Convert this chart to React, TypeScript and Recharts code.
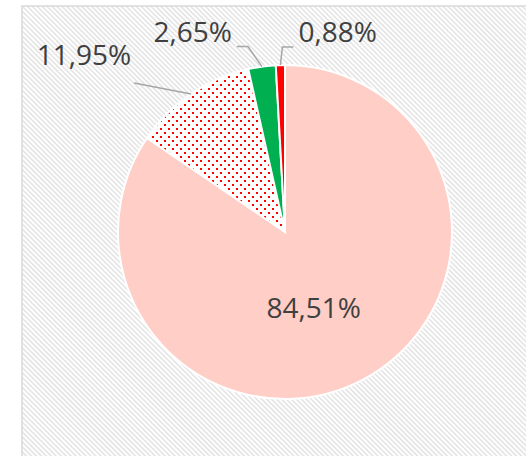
import React from "react";
import { PieChart, Pie, Cell } from "recharts";

const categories = ["A", "B", "C", "D"];
const shares = [84.51, 11.95, 2.65, 0.88];
const colors = ["#FFCEC6", "url(#dotsRed)", "#00B050", "#FF0000"];

const data = categories.map((name, i) => ({ name, value: shares[i] }));

const W = 526;
const H = 456;
const RADIAN = Math.PI / 180;

// label layout: inside factor, or leader offsets
const layout: any[] = [
  { inside: 0.47, ox: -8, oy: 6 },
  { elbow: [-57, -11], run: 0, side: "end", tdx: -3, tdy: -18 },
  { elbow: [-14, -20], run: -11, side: "end", tdx: -5, tdy: -5 },
  { elbow: [2, -18], run: 11, side: "start", tdx: 5, tdy: -5 },
];

const fmt = (v: number) => v.toFixed(2).replace(".", ",") + "%";

const renderLabel = (props: any) => {
  const { cx, cy, midAngle, outerRadius, index, value } = props;
  const L = layout[index];
  const cos = Math.cos(-midAngle * RADIAN);
  const sin = Math.sin(-midAngle * RADIAN);
  const textStyle = {
    fontFamily: "'Open Sans', sans-serif",
    fontSize: 28,
    fill: "#404040",
  };
  if (L.inside) {
    const x = cx + outerRadius * L.inside * cos + L.ox;
    const y = cy + outerRadius * L.inside * sin + L.oy;
    return (
      <text key={index} x={x} y={y} textAnchor="middle" dominantBaseline="central" style={textStyle}>
        {fmt(value)}
      </text>
    );
  }
  const ex = cx + outerRadius * cos;
  const ey = cy + outerRadius * sin;
  const bx = ex + L.elbow[0];
  const by = ey + L.elbow[1];
  const qx = bx + L.run;
  const qy = by;
  return (
    <g key={index}>
      <polyline
        points={`${ex},${ey} ${bx},${by} ${qx},${qy}`}
        fill="none"
        stroke="#A6A6A6"
        strokeWidth={1.5}
      />
      <text x={qx + L.tdx} y={qy + L.tdy} textAnchor={L.side} style={textStyle}>
        {fmt(value)}
      </text>
    </g>
  );
};

export default function App() {
  return (
    <div style={{ position: "absolute", left: 0, top: 0, width: W, height: H, overflow: "hidden", background: "#fff" }}>
      <svg width={W} height={H} style={{ position: "absolute", left: 0, top: 0 }}>
        <defs>
          <pattern id="hatchBg" patternUnits="userSpaceOnUse" width={3.5} height={10} patternTransform="rotate(-45)">
            <rect x={0} y={0} width={3.5} height={10} fill="#ffffff" />
            <rect x={0} y={0} width={1.5} height={10} fill="#E2E2E2" />
          </pattern>
          <pattern id="dotsRed" patternUnits="userSpaceOnUse" width={8} height={8}>
            <rect x={0} y={0} width={8} height={8} fill="#ffffff" />
            <rect x={0} y={0} width={2} height={2} fill="#FF0000" />
            <rect x={4} y={4} width={2} height={2} fill="#FF0000" />
          </pattern>
        </defs>
        <rect x={22} y={6} width={W} height={H} fill="url(#hatchBg)" stroke="#D9D9D9" strokeWidth={1.5} />
      </svg>
      <div style={{ position: "absolute", left: 0, top: 0 }}>
        <PieChart width={W} height={H} margin={{ top: 0, right: 0, bottom: 0, left: 0 }}>
          <Pie
            data={data}
            dataKey="value"
            nameKey="name"
            cx={285}
            cy={232}
            outerRadius={167}
            startAngle={90}
            endAngle={-270}
            stroke="#ffffff"
            strokeWidth={2}
            isAnimationActive={false}
            labelLine={false}
            label={renderLabel}
          >
            {data.map((d, i) => (
              <Cell key={d.name} fill={colors[i]} />
            ))}
          </Pie>
        </PieChart>
      </div>
    </div>
  );
}
